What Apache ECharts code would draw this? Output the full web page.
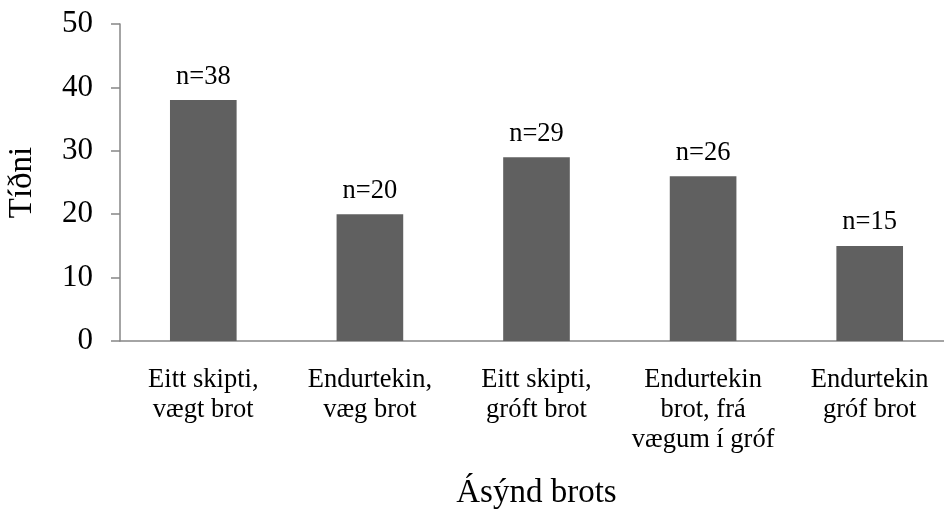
<!DOCTYPE html>
<html>
<head>
<meta charset="utf-8">
<script src="https://cdn.jsdelivr.net/npm/echarts@6/dist/echarts.min.js"></script>
<style>html,body{margin:0;padding:0;background:#fff}#c{width:944px;height:511px}</style>
</head>
<body>
<div id="c"></div>
<script>
const categories = ['Eitt skipti,\nvægt brot', 'Endurtekin,\nvæg brot', 'Eitt skipti,\ngróft brot', 'Endurtekin\nbrot, frá\nvægum í gróf', 'Endurtekin\ngróf brot'];
const values = [38, 20, 29, 26, 15];
const barLabels = ['n=38', 'n=20', 'n=29', 'n=26', 'n=15'];
const yTicks = [0, 10, 20, 30, 40, 50];
const xTitle = 'Ásýnd brots';
const yTitle = 'Tíðni';

const FONT = '"Liberation Serif", "Times New Roman", serif';
const chart = echarts.init(document.getElementById('c'));
chart.setOption({
  animation: false,
  grid: { left: 120, top: 24, width: 833, height: 317, containLabel: false, outerBoundsMode: 'none' },
  xAxis: {
    type: 'category',
    data: categories,
    name: xTitle,
    nameLocation: 'middle',
    nameGap: 136,
    nameTextStyle: { fontFamily: FONT, fontSize: 33, color: '#000' },
    axisLine: { lineStyle: { color: '#868686', width: 1.5 } },
    axisTick: { show: false },
    axisLabel: { fontFamily: FONT, fontSize: 26.5, color: '#000', lineHeight: 30, margin: 24, interval: 0 }
  },
  yAxis: {
    type: 'value',
    min: yTicks[0],
    max: yTicks[yTicks.length - 1],
    interval: 10,
    name: yTitle,
    nameLocation: 'middle',
    nameGap: 81,
    nameTextStyle: { fontFamily: FONT, fontSize: 33, color: '#000' },
    splitLine: { show: false },
    axisLine: { show: true, lineStyle: { color: '#868686', width: 1.5 } },
    axisTick: { show: true, length: 9, lineStyle: { color: '#868686', width: 1.5 } },
    axisLabel: { fontFamily: FONT, fontSize: 31, color: '#000', margin: 27 }
  },
  series: [{
    type: 'bar',
    data: values,
    barWidth: '40%',
    itemStyle: { color: '#606060' },
    label: {
      show: true,
      position: 'top',
      distance: 10,
      fontFamily: FONT,
      fontSize: 26.5,
      color: '#000',
      formatter: p => barLabels[p.dataIndex]
    }
  }]
});
</script>
</body>
</html>
